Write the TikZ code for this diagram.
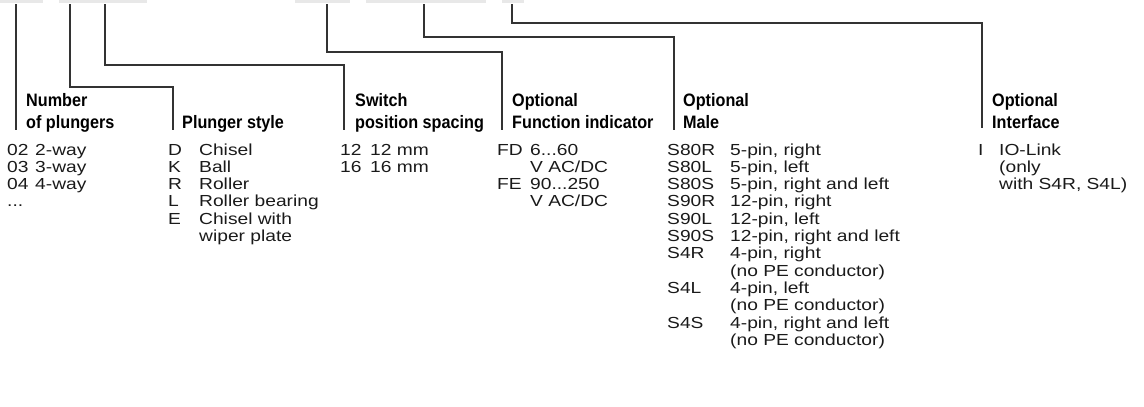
\documentclass[tikz,border=0pt]{standalone}
\usepackage{fontspec}
\setmainfont{Liberation Sans}
\newfontfamily\itemfont{Liberation Sans}[FakeStretch=1.2]
\newfontfamily\headfont{Liberation Sans}[FakeStretch=0.9]
\definecolor{boxgray}{HTML}{E8E8E8}
\definecolor{linegray}{HTML}{333333}
\definecolor{itemcol}{HTML}{1A1A1A}
\tikzset{
  itemtxt/.style={anchor=base west, inner sep=0pt, font=\itemfont\fontsize{16}{17.3}\selectfont, text=itemcol},
  headtxt/.style={anchor=base west, inner sep=0pt, font=\headfont\bfseries\fontsize{18}{22}\selectfont},
  conn/.style={draw=linegray, line width=1.1pt},
  tabbox/.style={fill=boxgray, draw=none}
}
\newcommand{\rows}[1]{\begin{tabular}[t]{@{}l@{}}#1\end{tabular}}
\begin{document}
\begin{tikzpicture}[x=1pt,y=-1pt]
\useasboundingbox (0,0) rectangle (1144,407);
% gray tabs at the top
\fill[tabbox] (0,0) rectangle (43,2.5);
\fill[tabbox] (59,0) rectangle (147,2.5);
\fill[tabbox] (295,0) rectangle (350,2.5);
\fill[tabbox] (366,0) rectangle (486,2.5);
\fill[tabbox] (502,0) rectangle (524,2.5);
% connector coordinates
\coordinate (t1) at (16,4);   \coordinate (e1) at (16,130);
\coordinate (t2) at (70,4);   \coordinate (e2) at (173,130);
\coordinate (t3) at (105,4);  \coordinate (e3) at (344,130);
\coordinate (t4) at (327,4);  \coordinate (e4) at (502,130);
\coordinate (t5) at (424,4);  \coordinate (e5) at (674,130);
\coordinate (t6) at (512,4);  \coordinate (e6) at (982,128);
\draw[conn] (t1) -- (e1);
\draw[conn] (t2) -- (70,87) -| (e2);
\draw[conn] (t3) -- (105,65) -| (e3);
\draw[conn] (t4) -- (327,52) -| (e4);
\draw[conn] (t5) -- (424,37) -| (e5);
\draw[conn] (t6) -- (512,23) -| (e6);
% headers
\node[headtxt] (h1) at (26,106) {\begin{tabular}[t]{@{}l@{}}Number\\of plungers\end{tabular}};
\node[headtxt] (h2) at (182,128) {Plunger style};
\node[headtxt] (h3) at (355,106) {\begin{tabular}[t]{@{}l@{}}Switch\\position spacing\end{tabular}};
\node[headtxt] (h4) at (512,106) {\begin{tabular}[t]{@{}l@{}}Optional\\Function indicator\end{tabular}};
\node[headtxt] (h5) at (683,106) {\begin{tabular}[t]{@{}l@{}}Optional\\Male\end{tabular}};
\node[headtxt] (h6) at (992,106) {\begin{tabular}[t]{@{}l@{}}Optional\\Interface\end{tabular}};
% column 1
\node[itemtxt] (c1) at (7,155) {\rows{02\\03\\04\\...}};
\node[itemtxt] (d1) at (35,155) {\rows{2-way\\3-way\\4-way}};
% column 2
\node[itemtxt] (c2) at (168,155) {\rows{D\\K\\R\\L\\E}};
\node[itemtxt] (d2) at (199,155) {\rows{Chisel\\Ball\\Roller\\Roller bearing\\Chisel with\\wiper plate}};
% column 3
\node[itemtxt] (c3) at (340,155) {\rows{12\\16}};
\node[itemtxt] (d3) at (370,155) {\rows{12 mm\\16 mm}};
% column 4
\node[itemtxt] (c4) at (497,155) {\rows{FD\\ \\FE}};
\node[itemtxt] (d4) at (530,155) {\rows{6...60\\V AC/DC\\90...250\\V AC/DC}};
% column 5
\node[itemtxt] (c5) at (667,155) {\rows{S80R\\S80L\\S80S\\S90R\\S90L\\S90S\\S4R\\ \\S4L\\ \\S4S}};
\node[itemtxt] (d5) at (730,155) {\rows{5-pin, right\\5-pin, left\\5-pin, right and left\\12-pin, right\\12-pin, left\\12-pin, right and left\\4-pin, right\\(no PE conductor)\\4-pin, left\\(no PE conductor)\\4-pin, right and left\\(no PE conductor)}};
% column 6
\node[itemtxt] (c6) at (978,155) {\rows{I}};
\node[itemtxt] (d6) at (999,155) {\rows{IO-Link\\(only\\with S4R, S4L)}};
\end{tikzpicture}
\end{document}
